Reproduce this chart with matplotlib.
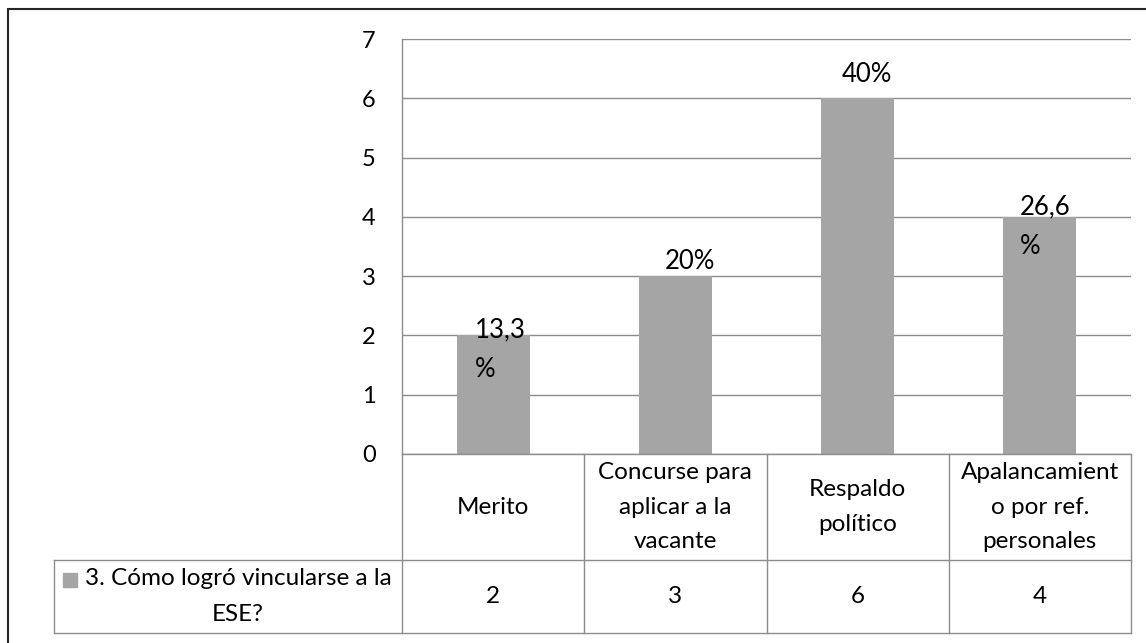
import matplotlib
matplotlib.use('Agg')
import matplotlib.pyplot as plt
from matplotlib.patches import Rectangle

# data
categories = ['Merito', 'Concurse para\naplicar a la\nvacante', 'Respaldo\npolítico',
              'Apalancamient\no por ref.\npersonales']
values = [2, 3, 6, 4]
labels = ['13,3\n%', '20%', '40%', '26,6\n%']
series_name = '3. Cómo logró vincularse a la\nESE?'
yticks = [0, 1, 2, 3, 4, 5, 6, 7]

# label placement (x shift in bar units, y offset above bar top)
lab_dx = [0.04, 0.08, 0.05, 0.03]
lab_dy = [0.31, 0.45, 0.61, 0.38]

plt.rcParams['font.family'] = ['Lato', 'DejaVu Sans']

W, H = 1146, 643
bar_col = '#a5a5a5'
line_col = '#8c8c8c'

fig = plt.figure(figsize=(W / 100, H / 100), dpi=100)

# outer chart border (right and bottom fall outside the picture)
fig.patches.append(Rectangle((8 / W, -0.1), 1.2, 1 - 9 / H + 0.1, transform=fig.transFigure,
                             fill=False, edgecolor='#262626', linewidth=1.5))

ax = fig.add_axes([402 / W, (H - 454) / H, 729 / W, 415 / H])
x = range(len(values))
ax.bar(x, values, width=0.4, color=bar_col, zorder=3)
ax.set_xlim(-0.5, 3.5)
ax.set_ylim(0, 7)
ax.set_yticks(yticks)
ax.yaxis.grid(True, color=line_col, linewidth=1.0)
ax.set_axisbelow(True)
ax.set_xticks([])
for s in ['top', 'right', 'bottom']:
    ax.spines[s].set_visible(False)
ax.spines['left'].set_color(line_col)
ax.spines['left'].set_linewidth(1.0)
ax.tick_params(axis='y', length=0, pad=19, labelsize=17, labelcolor='black')

for i, v in enumerate(values):
    ax.text(i + lab_dx[i] - 0.14, v + lab_dy[i], labels[i], ha='left', va='top',
            fontsize=18.5, linespacing=1.75, multialignment='left', zorder=4)

# data table under the plot
tb = fig.add_axes([402 / W, (H - 633) / H, 729 / W, 179 / H])
tb.set_xlim(-0.5, 3.5)
tb.set_ylim(179, 0)
tb.axis('off')
px = 729 / 4  # pixels per category
x_left = -0.5 - 348 / px
row1, row2 = 106, 179

kw = dict(color=line_col, linewidth=1.0, clip_on=False)
for b in [-0.5, 0.5, 1.5, 2.5, 3.5]:
    tb.plot([b, b], [0, row2], **kw)
tb.plot([-0.5, 3.5], [0, 0], **kw)
tb.plot([x_left, 3.5], [row1, row1], **kw)
tb.plot([x_left, 3.5], [row2, row2], **kw)
tb.plot([x_left, x_left], [row1, row2], **kw)

for i, c in enumerate(categories):
    tb.text(i, row1 / 2, c, ha='center', va='center', fontsize=17.5, linespacing=1.8)
    tb.text(i, (row1 + row2) / 2, str(values[i]), ha='center', va='center', fontsize=17.5)

tb.text(-0.5 - (402 - 238) / px, (row1 + row2) / 2, series_name, ha='center', va='center',
        fontsize=17.5, linespacing=1.85)
tb.add_patch(Rectangle((-0.5 - (402 - 63) / px, 119), 14 / px, 14, color=bar_col, clip_on=False))

fig.savefig('out.png', dpi=100)
